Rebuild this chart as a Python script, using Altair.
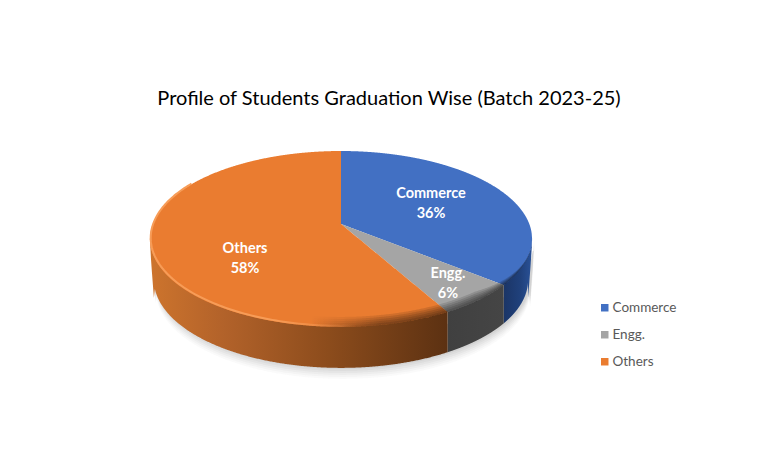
import altair as alt
import numpy as np
import pandas as pd

TITLE = "Profile of Students Graduation Wise (Batch 2023-25)"
CATEGORIES = ["Commerce", "Engg.", "Others"]
SHARES = [36, 6, 58]

TOP_COLORS = ["#4270c3", "#a5a5a5", "#ea7c30"]
WALL_STOPS = [
    [("#1b3566", 0), ("#20417c", 0.6), ("#2a5298", 1)],
    [("#404040", 0), ("#454545", 1)],
    [("#cd742d", 0), ("#b2622a", 0.25), ("#8c4c1c", 0.6), ("#5c3112", 1)],
]
LABEL_CENTERS = [(431, 202), (448, 282), (245, 257)]

# Page-pixel frame of the drawing (the page has an 8px margin)
X_DOM = [8, 771]
Y_DOM = [442, 8]
CX, CY = 341.0, 224.0
A, B, K = 85.4, 188.3, 0.17
DEPTH = 41.0
CTR_Y = 238.0


def project(theta_deg):
    t = np.radians(theta_deg)
    s, c = np.sin(t), -np.cos(t)
    d = 1 - K * c
    return CX + B * s / d, CY + A * c / d


thetas = np.arange(0, 360.01, 0.25)
px, py = project(thetas)
xmin, xmax = px.min(), px.max()


def rim_low(xs):
    mask = py >= CTR_Y
    lx, ly = px[mask], py[mask]
    i = np.argsort(lx)
    return np.interp(xs, lx[i], ly[i])


def wall_low(xs):
    half = xmax - CX
    inner = half - 4
    u = (xs - CX) / inner * half
    base = rim_low(CX + np.clip(u, -half, half)) + DEPTH
    edge = np.abs(xs - CX) > inner
    taper = (half - np.abs(xs - CX)) / 4
    y = rim_low(xs) + DEPTH * np.clip(taper, 0, 1)
    return np.where(edge, y, base)


# angular limits of each slice, clockwise from the top
bounds = np.concatenate([[0], np.cumsum(SHARES)]) * 3.6

rows = []
for name, a0, a1 in zip(CATEGORIES, bounds[:-1], bounds[1:]):
    ang = np.linspace(a0, a1, 400)
    ex, ey = project(ang)
    poly_x = np.concatenate([[CX], ex, [CX]])
    poly_y = np.concatenate([[CY], ey, [CY]])
    xs = np.unique(np.concatenate([np.linspace(ex.min(), ex.max(), 500), [CX - 0.01, CX + 0.01]]))
    xs = xs[(xs >= min(poly_x.min(), ex.min())) & (xs <= max(poly_x.max(), ex.max()))]
    for x in xs:
        hits = []
        for i in range(len(poly_x) - 1):
            x0, x1 = poly_x[i], poly_x[i + 1]
            if (x0 - x) * (x1 - x) <= 0 and x0 != x1:
                hits.append(poly_y[i] + (x - x0) / (x1 - x0) * (poly_y[i + 1] - poly_y[i]))
        if hits:
            rows.append({"slice": name, "x": x, "y": min(hits), "y2": max(hits)})
top_df = pd.DataFrame(rows)

xenc = alt.X("x:Q", scale=alt.Scale(domain=X_DOM, nice=False, zero=False), axis=None)
yenc = alt.Y("y:Q", scale=alt.Scale(domain=Y_DOM, nice=False, zero=False), axis=None)


def grad(stops):
    return alt.Gradient(
        gradient="linear",
        stops=[alt.GradientStop(color=c, offset=o) for c, o in stops],
        x1=0, x2=1, y1=0, y2=0,
    )


layers = []

# soft shadow under the pie
grid = np.linspace(xmin + 3, xmax + 2, 300)
for grow, op in [(11, 0.035), (9, 0.045), (7, 0.055), (5, 0.07), (3, 0.08), (1, 0.1)]:
    d = pd.DataFrame({"x": grid, "y": rim_low(np.clip(grid, xmin, xmax)) + 12,
                      "y2": wall_low(np.clip(grid - 2, xmin, xmax)) + grow})
    layers.append(alt.Chart(d).mark_area(color="#7f7f7f", opacity=op).encode(xenc, yenc, y2="y2:Q"))

# side walls
brk = project(bounds)
wall_ranges = [(brk[0][1], xmax), (brk[0][2], brk[0][1]), (xmin, brk[0][2])]
for (x0, x1), stops in zip(wall_ranges, WALL_STOPS):
    xs = np.linspace(x0, x1, 300)
    d = pd.DataFrame({"x": xs, "y": rim_low(xs) - 1, "y2": wall_low(xs)})
    layers.append(alt.Chart(d).mark_area(color=grad(stops)).encode(xenc, yenc, y2="y2:Q"))

# top faces, with the legend
layers.append(
    alt.Chart(top_df).mark_area().encode(
        xenc, yenc, y2="y2:Q",
        color=alt.Color(
            "slice:N",
            scale=alt.Scale(domain=CATEGORIES, range=TOP_COLORS),
            legend=alt.Legend(
                title=None, orient="none", legendX=590, legendY=293,
                symbolType="square", symbolSize=56, symbolStrokeWidth=0,
                labelFont="Lato", labelFontSize=13.5, labelColor="#595959",
                labelOffset=1, rowPadding=12,
            ),
        ),
    )
)

# bevel: darkening towards the rim on the right
xs = np.linspace(xmin, xmax, 400)
for off in [10, 8, 6, 4, 2]:
    d = pd.DataFrame({"x": xs, "y": rim_low(xs) - off * np.clip((xmax + 3 - xs) / 60, 0, 1), "y2": rim_low(xs)})
    layers.append(
        alt.Chart(d).mark_area(color=grad([
            ("rgba(0,0,0,0)", 0), ("rgba(0,0,0,0)", 0.42),
            ("rgba(0,0,0,0.11)", 0.6), ("rgba(0,0,0,0.15)", 1)])).encode(xenc, yenc, y2="y2:Q")
    )

# highlight on the left rim
hl_t = np.arange(300, 175, -1.0)
hx, hy = project(hl_t)
hl = pd.DataFrame({"x": hx + 0.8 * np.sign(CX - hx), "y": hy - 1.0, "i": np.arange(len(hl_t))})
layers.append(
    alt.Chart(hl).mark_line(
        strokeWidth=2,
        color=alt.Gradient(gradient="linear", x1=0, x2=1, y1=0, y2=0, stops=[
            alt.GradientStop(color="#f79c57", offset=0),
            alt.GradientStop(color="#f79c57", offset=0.6),
            alt.GradientStop(color="rgba(247,156,87,0)", offset=1),
        ]),
    ).encode(xenc, yenc, order="i:Q")
)

# data labels
lab = pd.DataFrame({
    "x": [p[0] for p in LABEL_CENTERS],
    "y": [p[1] + 2 for p in LABEL_CENTERS],
    "name": CATEGORIES,
    "pct": [f"{v}%" for v in SHARES],
})
for field, dy in [("name", -10), ("pct", 10)]:
    layers.append(
        alt.Chart(lab).mark_text(
            font="Lato", fontSize=14.5, fontWeight="bold", color="white", dy=dy, baseline="middle", align="center"
        ).encode(xenc, yenc, text=f"{field}:N")
    )

# chart title
layers.append(
    alt.Chart(pd.DataFrame({"x": [389], "y": [99], "t": [TITLE]})).mark_text(
        font="Lato", fontSize=20, color="#000000", baseline="middle", align="center"
    ).encode(xenc, yenc, text="t:N")
)

chart = alt.layer(*layers).properties(
    width=763, height=434, padding=0, autosize=alt.AutoSizeParams(type="none"), background="white"
).configure_view(stroke=None)

chart.save("out.html", embed_options={"renderer": "svg", "actions": False})
